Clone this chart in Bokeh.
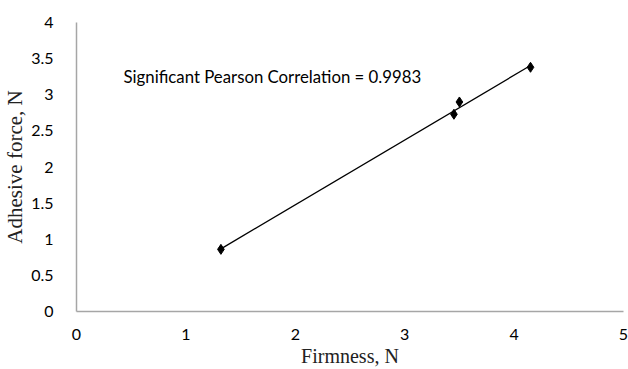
import numpy as np
from bokeh.plotting import figure
from bokeh.models import Label, Range1d, FixedTicker
from bokeh.embed import file_html
from bokeh.resources import INLINE

# Data
firmness = [1.32, 3.45, 3.50, 4.15]
adhesive = [0.86, 2.73, 2.90, 3.38]
x_ticks = [0, 1, 2, 3, 4, 5]
y_ticks = [0, 0.5, 1, 1.5, 2, 2.5, 3, 3.5, 4]
annotation = "Significant Pearson Correlation = 0.9983"

p = figure(width=628, height=369, output_backend="svg", toolbar_location=None,
           x_range=Range1d(0, 5), y_range=Range1d(0, 4),
           min_border_left=76, min_border_right=5, min_border_top=22, min_border_bottom=56)
p.outline_line_color = None
p.grid.grid_line_color = None
p.background_fill_color = "white"

# linear trendline
coef = np.polyfit(firmness, adhesive, 1)
xs = [min(firmness), max(firmness)]
ys = [coef[0] * v + coef[1] for v in xs]
p.line(xs, ys, line_color="black", line_width=1.3)
p.scatter(firmness, adhesive, marker="diamond", size=10, color="black")

for ax in (p.xaxis[0], p.yaxis[0]):
    ax.axis_line_color = "#a6a6a6"
    ax.axis_line_width = 1.5
    ax.major_tick_line_color = None
    ax.minor_tick_line_color = None
    ax.major_label_text_font = "Lato"
    ax.major_label_text_font_size = "16px"
    ax.major_label_text_color = "black"
    ax.axis_label_text_font = "Liberation Serif"
    ax.axis_label_text_font_style = "normal"
    ax.axis_label_text_color = "#222222"

p.xaxis.ticker = FixedTicker(ticks=x_ticks)
p.yaxis.ticker = FixedTicker(ticks=y_ticks)
p.xaxis.axis_label = "Firmness, N"
p.yaxis.axis_label = "Adhesive force, N"
p.xaxis.axis_label_text_font_size = "20px"
p.yaxis.axis_label_text_font_size = "21px"
p.xaxis.major_label_standoff = 11
p.yaxis.major_label_standoff = 17
p.xaxis.axis_label_standoff = 2
p.yaxis.axis_label_standoff = 1

p.add_layout(Label(x=0.43, y=3.25, text=annotation, text_font="Lato",
                   text_font_size="16.8px", text_baseline="middle", text_color="black"))

open("out.html", "w").write(file_html(p, INLINE))
